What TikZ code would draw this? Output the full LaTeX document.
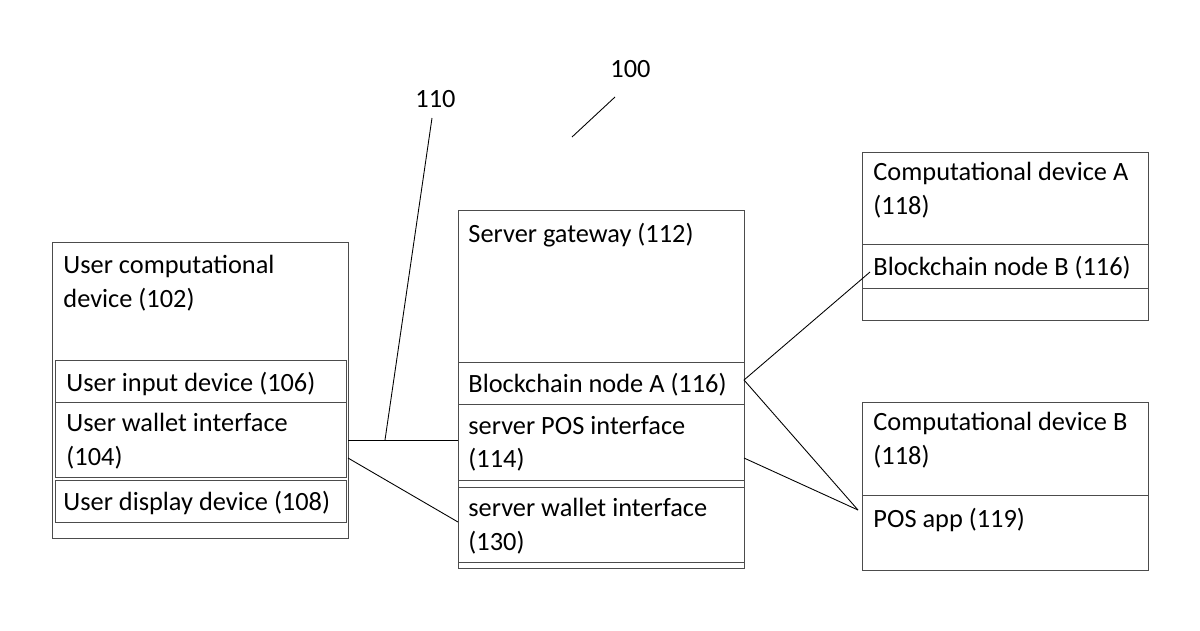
\documentclass[tikz,border=0pt]{standalone}
\usepackage{fontspec}
\setmainfont{Carlito}
\begin{document}
\begin{tikzpicture}[x=0.02cm,y=-0.02cm,line width=0.5pt,
    box/.style={draw=black!70},
    lbl/.style={anchor=north west,align=left,inner sep=0pt,font=\fontsize{15}{19}\selectfont}]
    \useasboundingbox (0,0) rectangle (1200,630);

    % user computational device
    \draw[box] (52,242) rectangle (348,538);
    \draw[box] (55,360) rectangle (346,402);
    \draw[box] (55,402) rectangle (346,477);
    \draw[box] (55,480) rectangle (346,522);
    \node[lbl] (ucd) at (63,255) {User computational\\device (102)};
    \node[lbl] (uid) at (66,372) {User input device (106)};
    \node[lbl] (uwi) at (66,413) {User wallet interface\\(104)};
    \node[lbl] (udd) at (63,491) {User display device (108)};

    % server gateway
    \draw[box] (458,210) rectangle (744,568);
    \draw[box] (458,362) rectangle (744,404);
    \draw[box] (458,404) rectangle (744,480);
    \draw[box] (458,487) rectangle (744,562);
    \node[lbl] (sg) at (468,223) {Server gateway (112)};
    \node[lbl] (bna) at (468,373) {Blockchain node A (116)};
    \node[lbl] (spi) at (468,416) {server POS interface\\(114)};
    \node[lbl] (swi) at (468,498) {server wallet interface\\(130)};

    % computational device A
    \draw[box] (862,152) rectangle (1148,320);
    \draw[box] (862,244) rectangle (1148,288);
    \node[lbl] (cda) at (873,162) {Computational device A\\(118)};
    \node[lbl] (bnb) at (873,256) {Blockchain node B (116)};

    % computational device B
    \draw[box] (862,402) rectangle (1148,570);
    \draw[box] (862,495) -- (1148,495);
    \node[lbl] (cdb) at (873,412) {Computational device B\\(118)};
    \node[lbl] (pos) at (873,508) {POS app (119)};

    % connectors
    \coordinate (uR) at (348,440);
    \coordinate (sL) at (458,440);
    \coordinate (nk) at (385,440);
    \coordinate (aR) at (744,380);
    \coordinate (bL) at (870,272);
    \coordinate (pL) at (858,510);
    \draw (uR) -- (sL);
    \draw (348,458) -- (458,522);
    \draw (aR) -- (bL);
    \draw (aR) -- (pL);
    \draw (744,458) -- (pL);

    % reference numerals
    \node[lbl] (n110) at (415,90) {110};
    \node[lbl] (n100) at (610,60) {100};
    \draw (432,118) -- (nk);
    \draw (615,97) -- (572,137);
\end{tikzpicture}
\end{document}
